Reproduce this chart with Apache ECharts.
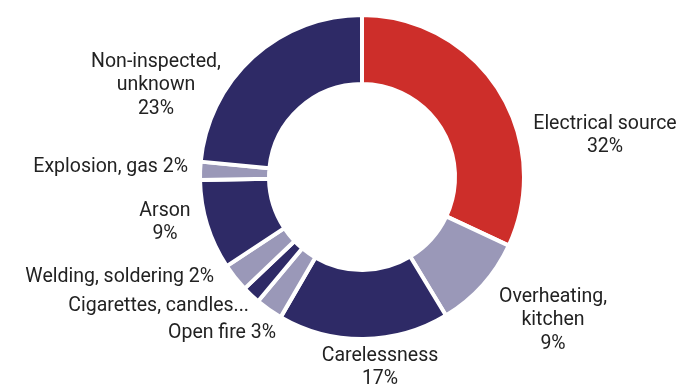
<!DOCTYPE html>
<html><head><meta charset="utf-8">
<script src="https://cdn.jsdelivr.net/npm/echarts@6/dist/echarts.min.js"></script>
<style>html,body{margin:0;padding:0;background:#fff}#c{width:686px;height:390px}</style>
</head><body><div id="c"></div>
<script>
const categories = ['Electrical source', 'Overheating,\nkitchen', 'Carelessness', 'Open fire', 'Cigarettes, candles...', 'Welding, soldering', 'Arson', 'Explosion, gas', 'Non-inspected,\nunknown'];
const values = [31.7, 9.3, 16.9, 2.7, 1.8, 2.8, 8.9, 1.8, 23.3];
const labelPercents = ['32%', '9%', '17%', '3%', '', '2%', '9%', '2%', '23%'];
const multiLine = [true, true, true, false, false, false, true, false, true];

const RED = '#CD2E2A', NAVY = '#2E2A66', LIGHT = '#9A98B8';
const colors = [RED, LIGHT, NAVY, LIGHT, NAVY, LIGHT, NAVY, LIGHT, NAVY];
// label anchor layout: [x, y(top), align]
const labelLayoutPos = [
  [605, 112, 'center'], [553, 285, 'center'], [380, 344, 'center'],
  [276, 321, 'right'], [249, 294, 'right'], [214, 265, 'right'],
  [165, 199, 'center'], [188, 155, 'right'], [156, 50, 'center']
];

const chart = echarts.init(document.getElementById('c'));
chart.setOption({
  animation: false,
  series: [{
    type: 'pie',
    center: [362, 177],
    radius: [93, 162],
    startAngle: 90,
    clockwise: true,
    avoidLabelOverlap: false,
    data: categories.map((n, i) => ({
      name: n, value: values[i],
      itemStyle: { color: colors[i] }
    })),
    itemStyle: { borderColor: '#fff', borderWidth: 4 },
    label: {
      show: true,
      position: 'outside',
      fontFamily: 'Roboto',
      fontSize: 19.5,
      lineHeight: 23.5,
      color: '#222',
      formatter: p => {
        const i = p.dataIndex;
        const pc = labelPercents[i];
        if (!pc) return categories[i];
        return categories[i] + (multiLine[i] ? '\n' : ' ') + pc;
      }
    },
    labelLine: { show: false },
    labelLayout: p => {
      const L = labelLayoutPos[p.dataIndex];
      return { x: L[0], y: L[1], align: L[2], verticalAlign: 'top' };
    }
  }]
});
</script></body></html>
